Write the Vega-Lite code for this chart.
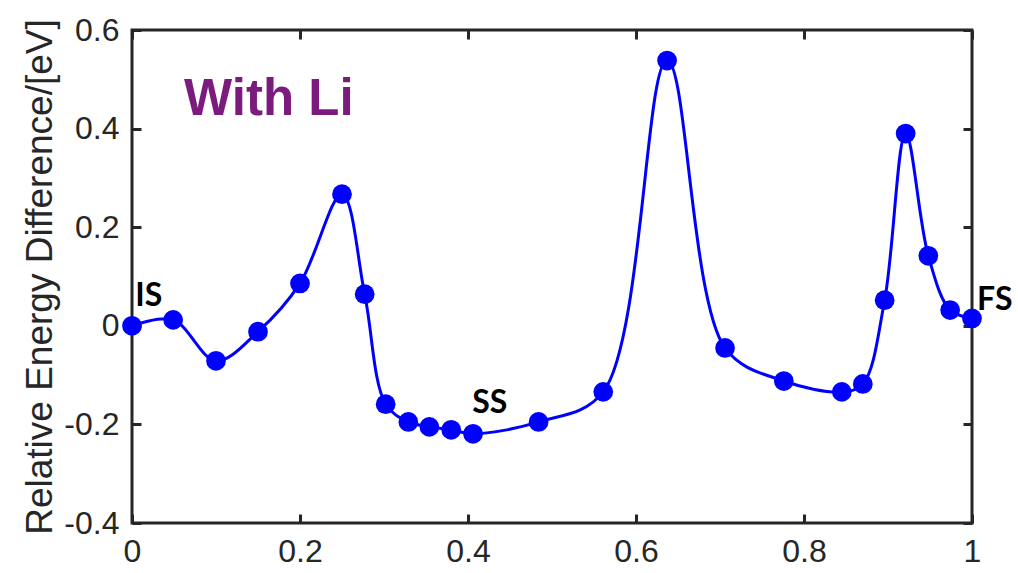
{
  "$schema": "https://vega.github.io/schema/vega-lite/v6.json",
  "width": 840,
  "height": 493,
  "autosize": {"type": "none"},
  "padding": {"left": 132, "top": 30, "right": 46, "bottom": 50},
  "background": "white",
  "config": {
    "view": {"stroke": "#262626", "strokeWidth": 3},
    "axis": {
      "domain": false,
      "tickColor": "#262626",
      "tickWidth": 3,
      "tickOpacity": 1,
      "tickSize": -9,
      "labelColor": "#262626",
      "labelFont": "Liberation Sans",
      "labelFontSize": 32,
      "labelFlush": false,
      "labelOverlap": false,
      "titleColor": "#262626",
      "titleFont": "Liberation Sans",
      "titleFontWeight": "normal",
      "grid": false
    }
  },
  "datasets": {
    "neb": [
      {"x": 0.0, "e": 0.0},
      {"x": 0.049, "e": 0.012},
      {"x": 0.1, "e": -0.071},
      {"x": 0.15, "e": -0.012},
      {"x": 0.2, "e": 0.086},
      {"x": 0.25, "e": 0.267},
      {"x": 0.277, "e": 0.064},
      {"x": 0.302, "e": -0.159},
      {"x": 0.329, "e": -0.195},
      {"x": 0.354, "e": -0.205},
      {"x": 0.38, "e": -0.211},
      {"x": 0.406, "e": -0.219},
      {"x": 0.484, "e": -0.195},
      {"x": 0.561, "e": -0.134},
      {"x": 0.637, "e": 0.538},
      {"x": 0.706, "e": -0.045},
      {"x": 0.776, "e": -0.112},
      {"x": 0.845, "e": -0.134},
      {"x": 0.87, "e": -0.118},
      {"x": 0.896, "e": 0.052},
      {"x": 0.921, "e": 0.39},
      {"x": 0.948, "e": 0.142},
      {"x": 0.974, "e": 0.032},
      {"x": 1.0, "e": 0.015}
    ],
    "states": [
      {"x": 0.004, "e": 0.06, "label": "IS"},
      {"x": 0.405, "e": -0.157, "label": "SS"},
      {"x": 1.006, "e": 0.052, "label": "FS"}
    ],
    "title": [
      {"x": 0.062, "e": 0.458, "label": "With Li"}
    ]
  },
  "resolve": {"axis": {"x": "independent", "y": "independent"}},
  "layer": [
    {
      "data": {"name": "neb"},
      "mark": {"type": "line", "color": "#0000ff", "strokeWidth": 3, "interpolate": "catmull-rom"},
      "encoding": {
        "x": {
          "field": "x", "type": "quantitative",
          "scale": {"domain": [0, 1], "nice": false, "zero": false},
          "axis": {"orient": "bottom", "values": [0, 0.2, 0.4, 0.6, 0.8, 1], "title": null, "labelPadding": 22,
            "labelExpr": "(datum.value < 0 ? '-' : '') + format(abs(datum.value), '~g')"}
        },
        "y": {
          "field": "e", "type": "quantitative",
          "scale": {"domain": [-0.4, 0.6], "nice": false, "zero": false},
          "axis": {"orient": "left", "values": [-0.4, -0.2, 0, 0.2, 0.4, 0.6], "title": "Relative Energy Difference/[eV]",
            "titleFontSize": 37, "titlePadding": 4, "labelPadding": 22,
            "labelExpr": "(datum.value < 0 ? '-' : '') + format(abs(datum.value), '~g')"}
        }
      }
    },
    {
      "data": {"name": "neb"},
      "mark": {"type": "point", "shape": "circle", "filled": true, "color": "#0000ff", "opacity": 1, "size": 390},
      "encoding": {
        "x": {"field": "x", "type": "quantitative",
          "axis": {"orient": "top", "values": [0, 0.2, 0.4, 0.6, 0.8, 1], "labels": false, "title": null}},
        "y": {"field": "e", "type": "quantitative",
          "axis": {"orient": "right", "values": [-0.4, -0.2, 0, 0.2, 0.4, 0.6], "labels": false, "title": null}}
      }
    },
    {
      "data": {"name": "states"},
      "mark": {"type": "text", "font": "Lato", "fontWeight": "bold", "fontSize": 32, "color": "#000000", "align": "left", "baseline": "middle"},
      "encoding": {
        "x": {"field": "x", "type": "quantitative", "axis": null},
        "y": {"field": "e", "type": "quantitative", "axis": null},
        "text": {"field": "label"}
      }
    },
    {
      "data": {"name": "title"},
      "mark": {"type": "text", "font": "Liberation Sans", "fontWeight": "bold", "fontSize": 51, "color": "#7b1b7e", "align": "left", "baseline": "middle"},
      "encoding": {
        "x": {"field": "x", "type": "quantitative", "axis": null},
        "y": {"field": "e", "type": "quantitative", "axis": null},
        "text": {"field": "label"}
      }
    }
  ]
}
